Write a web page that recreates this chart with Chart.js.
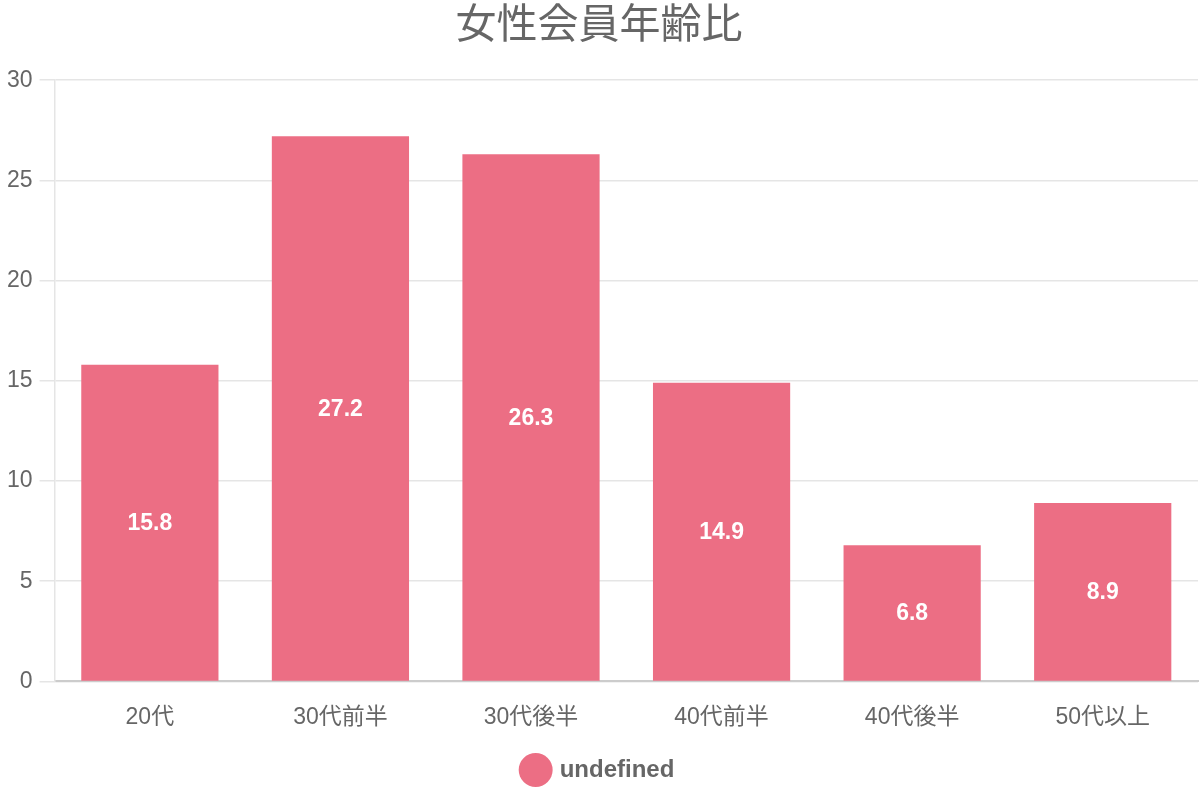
<!DOCTYPE html>
<html>
<head>
<meta charset="utf-8">
<script src="https://cdn.jsdelivr.net/npm/chart.js@4/dist/chart.umd.min.js"></script>
<style>
  html, body { margin: 0; padding: 0; background: #fff; }
  #wrap { width: 1200px; height: 800px; }
</style>
</head>
<body>
<div id="wrap"><canvas id="ages"></canvas></div>
<script>
const ageGroups = ["20代", "30代前半", "30代後半", "40代前半", "40代後半", "50代以上"];
const ratios = [15.8, 27.2, 26.3, 14.9, 6.8, 8.9];
const yTicks = [0, 5, 10, 15, 20, 25, 30];

const FONT = "'Liberation Sans', Arial, 'Noto Sans CJK JP', sans-serif";
Chart.defaults.font.family = FONT;
Chart.defaults.color = "#666";

// white value in the middle of each bar
const barValues = {
  id: "barValues",
  afterDatasetsDraw(chart) {
    const ctx = chart.ctx;
    ctx.save();
    ctx.fillStyle = "#fff";
    ctx.font = "bold 23px " + FONT;
    ctx.textAlign = "center";
    ctx.textBaseline = "middle";
    chart.getDatasetMeta(0).data.forEach((bar, i) => {
      ctx.fillText(ratios[i].toFixed(1), bar.x, (bar.y + bar.base) / 2 + 1);
    });
    ctx.restore();
  },
};

const config = {
  type: "bar",
  data: {
    labels: ageGroups,
    datasets: [
      {
        label: "undefined",
        data: ratios,
        backgroundColor: "#ec6e84",
        borderWidth: 0,
      },
    ],
  },
  options: {
    responsive: true,
    maintainAspectRatio: false,
    animation: false,
    layout: { padding: { right: 2, bottom: 8 } },
    scales: {
      x: {
        grid: { display: false },
        border: { display: true, color: "#ccc", width: 2 },
        ticks: { font: { size: 23 }, color: "#666", padding: 14 },
      },
      y: {
        min: 0,
        max: 30,
        afterBuildTicks: (axis) => {
          axis.ticks = yTicks.map((v) => ({ value: v }));
        },
        grid: { color: "#e5e5e5", lineWidth: 1.5, tickLength: 15 },
        border: { display: true, color: "#e5e5e5", width: 1.5 },
        ticks: { font: { size: 23 }, color: "#666", padding: 7 },
      },
    },
    plugins: {
      title: {
        display: true,
        text: "女性会員年齢比",
        font: { size: 41, weight: "normal" },
        color: "#666",
        padding: { top: 2, bottom: 29 },
      },
      legend: {
        position: "bottom",
        labels: {
          usePointStyle: true,
          pointStyle: "circle",
          boxHeight: 24,
          padding: 13,
          font: { size: 24, weight: "bold" },
          color: "#666",
        },
      },
      tooltip: { enabled: false },
    },
  },
  plugins: [barValues],
};

new Chart(document.getElementById("ages"), config);
</script>
</body>
</html>
